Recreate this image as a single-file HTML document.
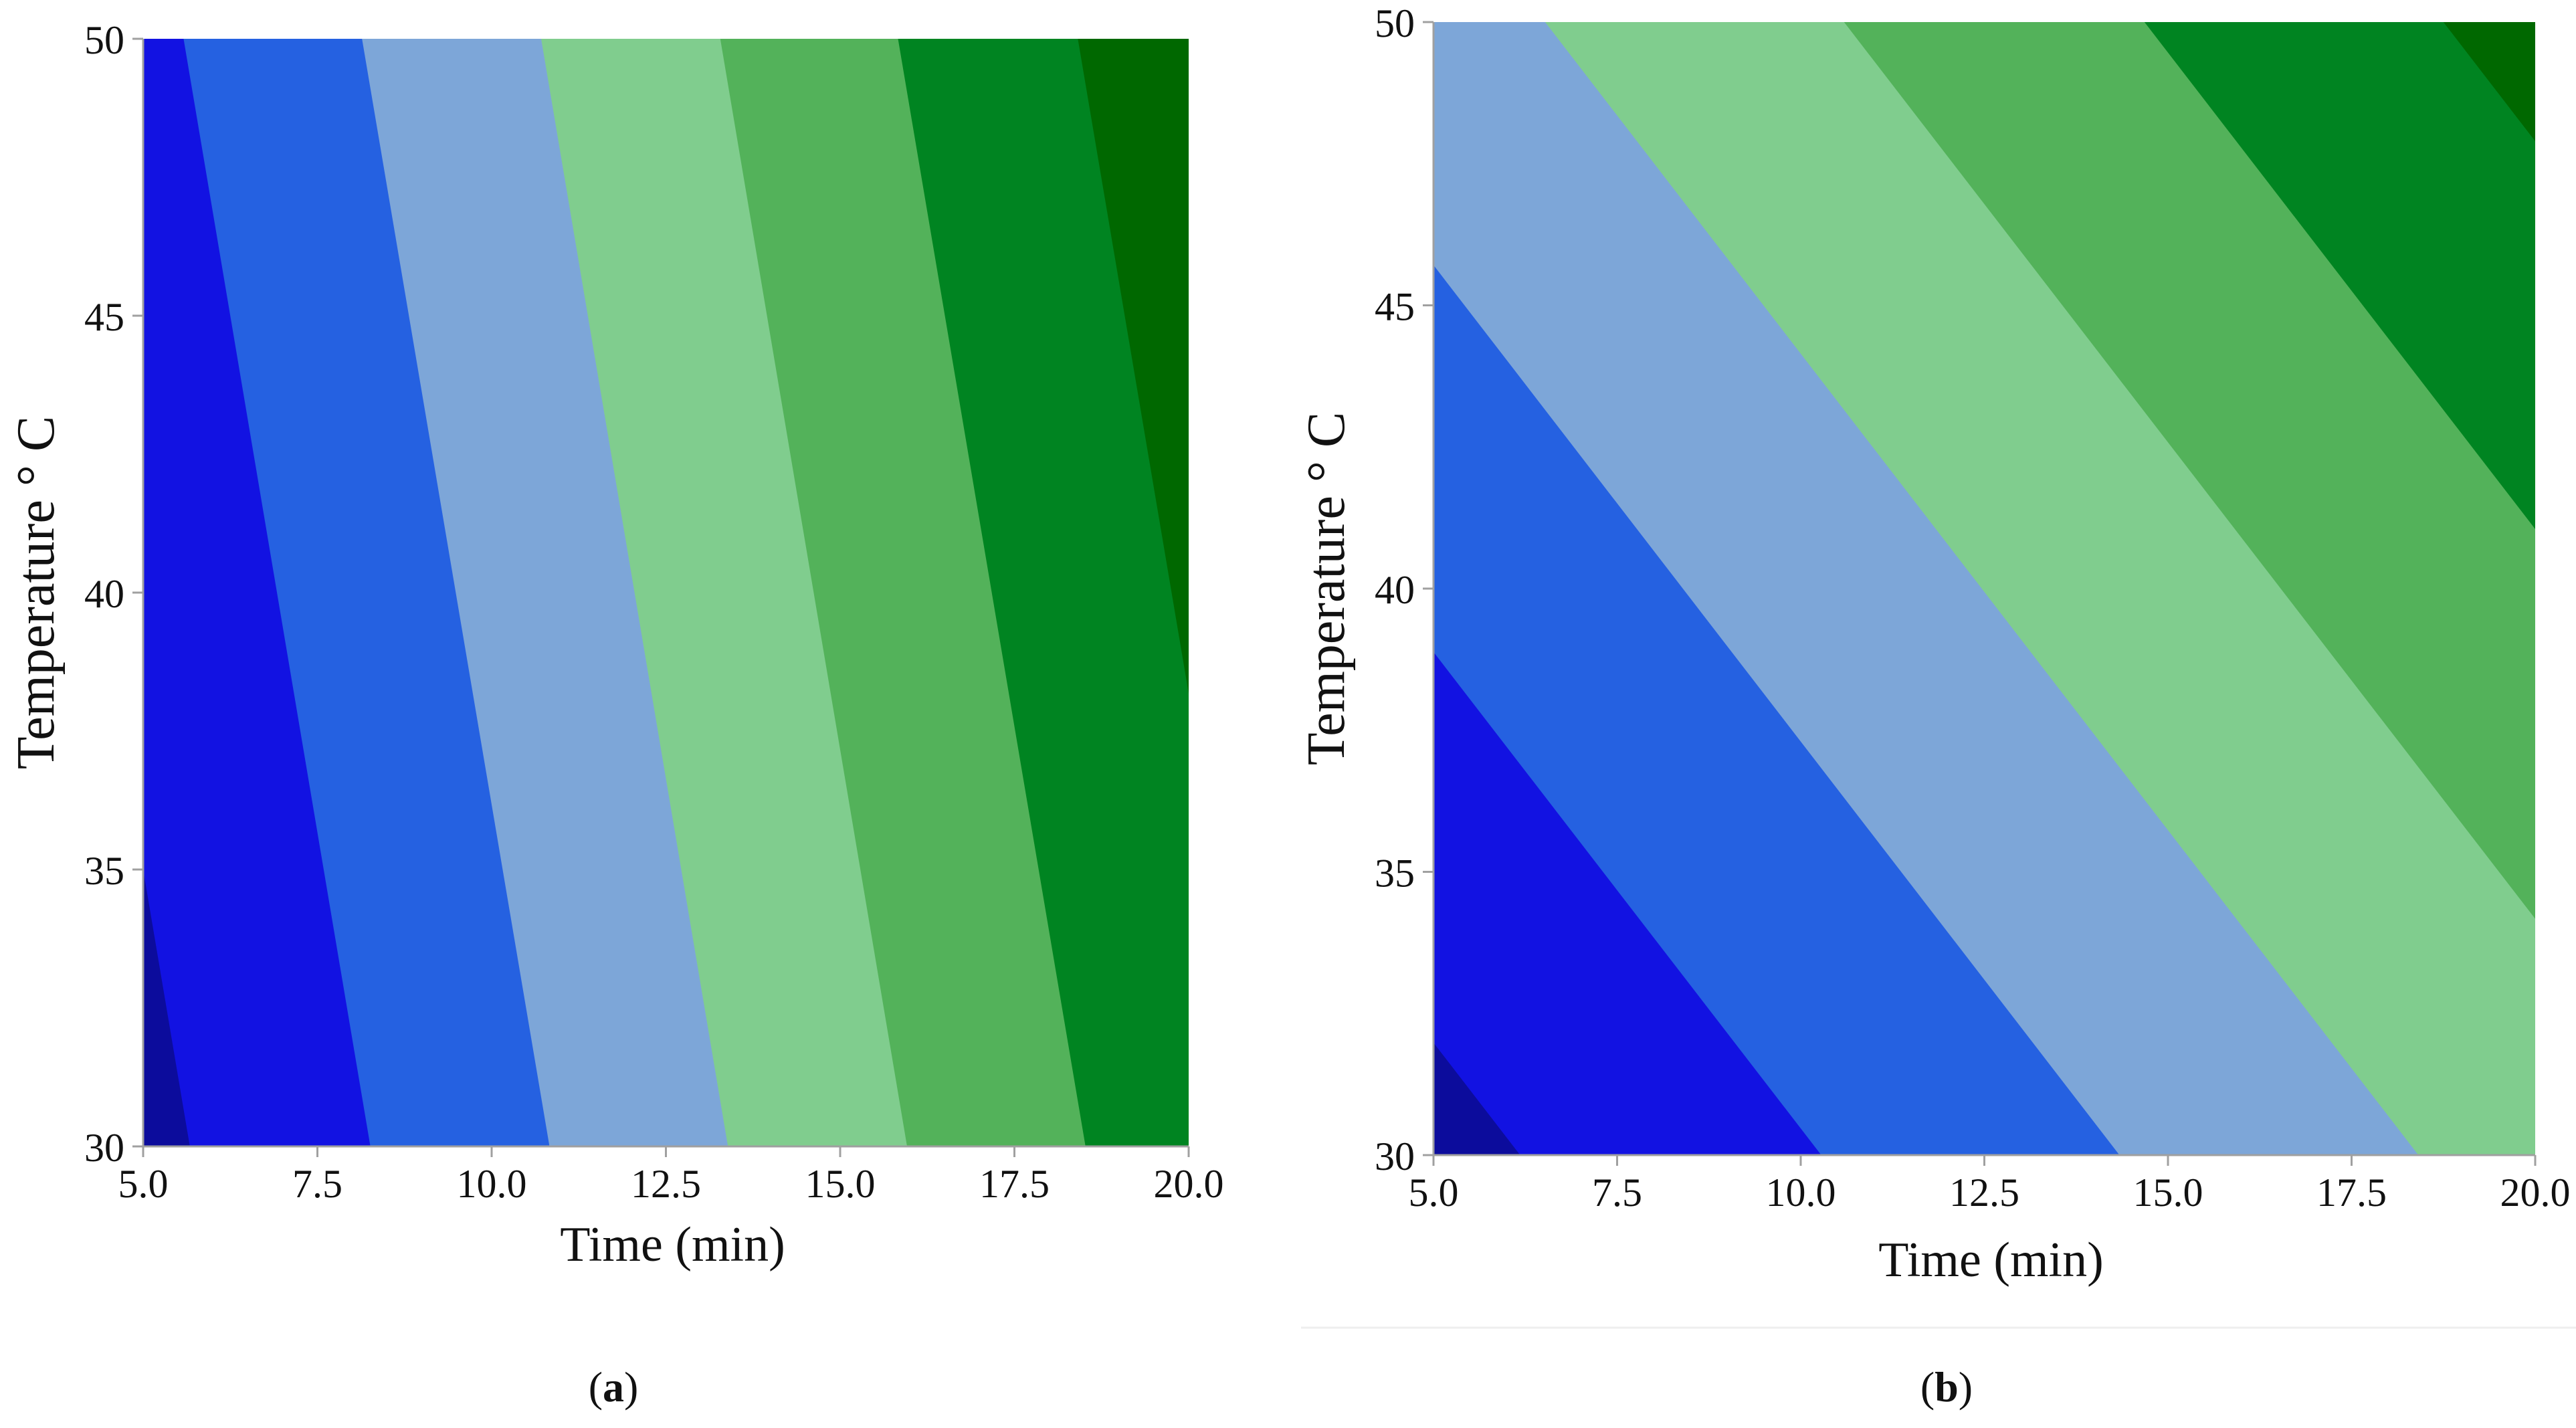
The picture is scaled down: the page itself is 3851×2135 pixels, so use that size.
<!DOCTYPE html>
<html><head><meta charset="utf-8"><style>
html,body{margin:0;padding:0;background:#fff;}
svg{display:block;}
text{font-family:"Liberation Serif",serif;fill:#111;}
</style></head><body>
<svg id="fig" width="3851" height="2135" viewBox="0 0 3851 2135" xmlns="http://www.w3.org/2000/svg">
<line x1="1945" y1="1985" x2="3851" y2="1985" stroke="#eeeeee" stroke-width="3"/>
</svg>
<script>
// Contour boundaries: Time value at Temperature=30 and Temperature=50
const aBoundaryT30 = [5.67, 8.26, 10.83, 13.39, 15.96, 18.52, 21.1];
const aBoundaryT50 = [2.99, 5.58, 8.14, 10.71, 13.28, 15.83, 18.41];
const bBoundaryT30 = [6.18, 10.28, 14.34, 18.41, 22.48, 26.57, 30.64];
const bBoundaryT50 = [-5.71, -1.61, 2.45, 6.52, 10.59, 14.68, 18.75];
const levelColors = ["#0c0c9c","#1212e2","#2561e1","#7da6d8","#80cd8e","#53b25a","#008421","#006800"];
const xTicks = [5.0, 7.5, 10.0, 12.5, 15.0, 17.5, 20.0];
const xTickLabels = ["5.0","7.5","10.0","12.5","15.0","17.5","20.0"];
const yTicks = [30, 35, 40, 45, 50];
const yTickLabels = ["30","35","40","45","50"];

const NS = "http://www.w3.org/2000/svg";
const svg = document.getElementById('fig');
function mk(tag, attrs, parent){
  const e = document.createElementNS(NS, tag);
  for (const k in attrs) e.setAttribute(k, attrs[k]);
  (parent||svg).appendChild(e);
  return e;
}

function panel(id, box, t30, t50, xt, yt, label, labelX, xTitleOff){
  const g = mk('g', {});
  
  
  const xs = v => box.x0 + (v - 5) / 15 * (box.x1 - box.x0);
  const ys = v => box.y1 - (v - 30) / 20 * (box.y1 - box.y0);
  const clip = mk('clipPath', {id: 'clip-' + id}, g);
  mk('rect', {x: box.x0, y: box.y0, width: box.x1 - box.x0, height: box.y1 - box.y0}, clip);
  const pg = mk('g', {'clip-path': 'url(#clip-' + id + ')'}, g);
  
  
  const bg = mk('rect', {x: box.x0, y: box.y0, width: box.x1 - box.x0, height: box.y1 - box.y0, fill: levelColors[levelColors.length - 1]}, pg);
  
  
  for (let i = t30.length - 1; i >= 0; i--) {
    const farL = xs(-200);
    const pts = [[xs(t30[i]), ys(30)], [xs(t50[i]), ys(50)], [farL, ys(50)], [farL, ys(30)]];
    const p = mk('polygon', {points: pts.map(q => q.join(',')).join(' '), fill: levelColors[i]}, pg);
    
    
  }
  const ax = mk('path', {d: `M${box.x0},${box.y0} L${box.x0},${box.y1} L${box.x1},${box.y1}`, fill: 'none', stroke: '#a0a0a0', 'stroke-width': 3}, g);
  
  
  xTicks.forEach((v, i) => {
    const x = xs(v);
    const tk = mk('line', {x1: x, y1: box.y1, x2: x, y2: box.y1 + 16, stroke: '#a0a0a0', 'stroke-width': 3}, g);
    
    
    const t = mk('text', {x: x, y: box.y1 + 76, 'text-anchor': 'middle', 'font-size': 60}, g);
    t.textContent = xt[i];
    
    
  });
  yTicks.forEach((v, i) => {
    const y = ys(v);
    const tk = mk('line', {x1: box.x0 - 16, y1: y, x2: box.x0, y2: y, stroke: '#a0a0a0', 'stroke-width': 3}, g);
    
    
    const t = mk('text', {x: box.x0 - 28, y: y + 22, 'text-anchor': 'end', 'font-size': 60}, g);
    t.textContent = yt[i];
    
    
  });
  const xtitle = mk('text', {x: (box.x0 + box.x1) / 2 + 10, y: box.y1 + xTitleOff, 'text-anchor': 'middle', 'font-size': 74}, g);
  xtitle.textContent = 'Time (min)';
  
  
  const cy = (box.y0 + box.y1) / 2;
  const ytitle = mk('text', {x: box.x0 - 134, y: cy, 'text-anchor': 'middle', 'font-size': 80, transform: `rotate(-90 ${box.x0 - 134} ${cy})`}, g);
  ytitle.textContent = 'Temperature \u00B0 C';
  
  
  const pl = mk('text', {x: labelX, y: 2095, 'text-anchor': 'middle', 'font-size': 64}, g);
  pl.textContent = '(';
  const b = mk('tspan', {'font-weight': 'bold'}, pl);
  b.textContent = label;
  const c = mk('tspan', {}, pl);
  c.textContent = ')';
  
  
}

panel('a', {x0: 214, x1: 1777, y0: 58, y1: 1714}, aBoundaryT30, aBoundaryT50, xTickLabels, yTickLabels, 'a', 917, 171);
panel('b', {x0: 2143, x1: 3790, y0: 33, y1: 1727}, bBoundaryT30, bBoundaryT50, xTickLabels, yTickLabels, 'b', 2910, 181);
</script>
</body></html>
